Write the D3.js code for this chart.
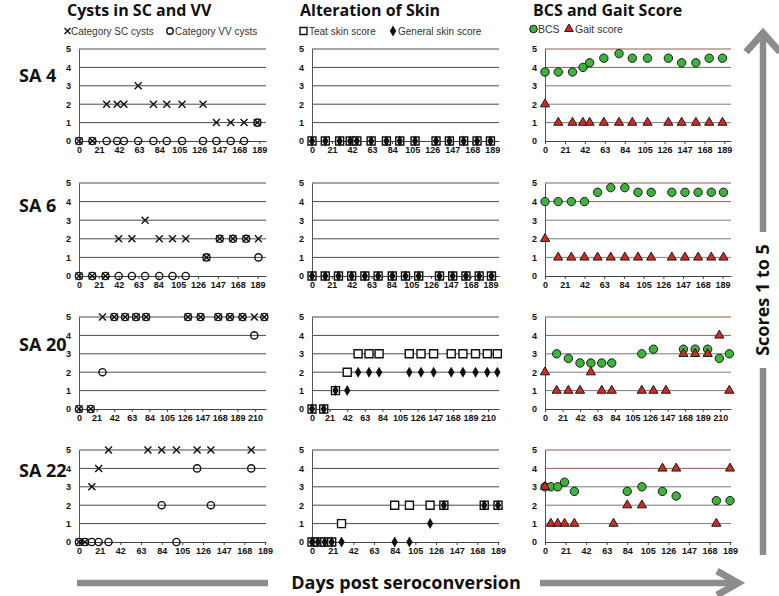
<!DOCTYPE html>
<html><head><meta charset="utf-8">
<script src="https://cdn.jsdelivr.net/npm/d3@7"></script>
<style>body{margin:0;background:#fff}svg{display:block}</style>
</head><body>
<svg id="c" width="779" height="596"></svg>
<script>
// ---------------- DATA ----------------
const rowLabels = ["SA 4", "SA 6", "SA 20", "SA 22"];
const panelTitles = ["Cysts  in SC and VV", "Alteration of Skin", "BCS and Gait Score"];
const legendLabels = [["Category SC cysts", "Category VV cysts"], ["Teat skin score", "General skin score"], ["BCS", "Gait score"]];
const axisLabel = "Days post seroconversion";
const scoreLabel = "Scores 1 to 5";

const days = [
  [0, 14, 29, 40, 47, 62, 78, 92, 108, 130, 144, 159, 173, 187],
  [0, 14, 28, 42, 56, 70, 85, 99, 113, 135, 149, 163, 177, 190],
  [0, 14, 28, 42, 55, 68, 80, 116, 130, 145, 166, 180, 195, 209, 221],
  [0, 6, 13, 20, 30, 70, 84, 99, 120, 134, 175, 189]
];
const dayMax = [196, 198, 223, 190];
const tickDays = [
  [0, 21, 42, 63, 84, 105, 126, 147, 168, 189],
  [0, 21, 42, 63, 84, 105, 126, 147, 168, 189],
  [0, 21, 42, 63, 84, 105, 126, 147, 168, 189, 210],
  [0, 21, 42, 63, 84, 105, 126, 147, 168, 189]
];
const scoreTicks = [0, 1, 2, 3, 4, 5];

const scCysts = [
  [0, 0, 2, 2, 2, 3, 2, 2, 2, 2, 1, 1, 1, 1],
  [0, 0, 0, 2, 2, 3, 2, 2, 2, 1, 2, 2, 2, 2],
  [0, 0, 5, 5, 5, 5, 5, null, 5, 5, 5, 5, 5, 5, 5],
  [0, 0, 3, 4, 5, 5, 5, 5, 5, 5, 5, null]
];
const vvCysts = [
  [0, 0, 0, 0, 0, 0, 0, 0, 0, 0, 0, 0, 0, 1],
  [0, 0, 0, 0, 0, 0, 0, 0, 0, 1, 2, 2, 2, 1],
  [0, 0, 2, 5, 5, 5, 5, null, 5, 5, 5, 5, 5, 4, 5],
  [0, 0, 0, 0, 0, null, 2, 0, 4, 2, 4, null]
];
const teatSkin = [
  [0, 0, 0, 0, 0, 0, 0, 0, 0, 0, 0, 0, 0, 0],
  [0, 0, 0, 0, 0, 0, 0, 0, 0, 0, 0, 0, 0, 0],
  [0, 0, 1, 2, 3, 3, 3, 3, 3, 3, 3, 3, 3, 3, 3],
  [0, 0, 0, 0, 1, null, 2, 2, 2, 2, 2, 2]
];
const generalSkin = [
  [0, 0, 0, 0, 0, 0, 0, 0, 0, 0, 0, 0, 0, 0],
  [0, 0, 0, 0, 0, 0, 0, 0, 0, 0, 0, 0, 0, 0],
  [0, 0, 1, 1, 2, 2, 2, 2, 2, 2, 2, 2, 2, 2, 2],
  [0, 0, 0, 0, 0, null, 0, 0, 1, 2, 2, 2]
];
const bcs = [
  [3.75, 3.75, 3.75, 4, 4.25, 4.5, 4.75, 4.5, 4.5, 4.5, 4.25, 4.25, 4.5, 4.5],
  [4, 4, 4, 4, 4.5, 4.75, 4.75, 4.5, 4.5, 4.5, 4.5, 4.5, 4.5, 4.5],
  [null, 3, 2.75, 2.5, 2.5, 2.5, 2.5, 3, 3.25, null, 3.25, 3.25, 3.25, 2.75, 3],
  [3, 3, 3, 3.25, 2.75, null, 2.75, 3, 2.75, 2.5, 2.25, 2.25]
];
const gait = [
  [2, 1, 1, 1, 1, 1, 1, 1, 1, 1, 1, 1, 1, 1],
  [2, 1, 1, 1, 1, 1, 1, 1, 1, 1, 1, 1, 1, 1],
  [2, 1, 1, 1, 2, 1, 1, 1, 1, 1, 3, 3, 3, 4, 1],
  [3, 1, 1, 1, 1, 1, 2, 2, 4, 4, 1, 4]
];

// ---------------- LAYOUT ----------------
const colX = [[79, 266], [312, 499], [545, 731]];
const rowY = [[141, 49], [276, 183], [409, 317], [542, 450]];
const rowLabelY = [82, 212, 351, 477];
const GREEN = "#3cb43c", RED = "#d22a1e", ARROW = "#8c8c8c";
const svg = d3.select("#c");
const SANS = "'Liberation Sans', Arial, sans-serif";
const BOLD = "'Open Sans', sans-serif";

function crossPath(s) { return `M${-s},${-s}L${s},${s}M${-s},${s}L${s},${-s}`; }
const markers = {
  cross: (g, s) => g.append("path").attr("d", crossPath(s)).attr("stroke", "#111").attr("stroke-width", 1.4).attr("fill", "none"),
  ring: (g, s) => g.append("circle").attr("r", s).attr("stroke", "#111").attr("stroke-width", 1.4).attr("fill", "none"),
  square: (g, s) => g.append("path").attr("d", d3.symbol(d3.symbolSquare, s * s)()).attr("stroke", "#111").attr("stroke-width", 1.4).attr("fill", "#fff"),
  diamond: (g, s) => g.append("path").attr("d", d3.symbol(d3.symbolDiamond, s * s * 0.55)()).attr("fill", "#111"),
  dot: (g, s) => g.append("circle").attr("r", s).attr("fill", GREEN).attr("stroke", "#1a1a1a").attr("stroke-width", 1),
  tri: (g, s) => g.append("path").attr("d", d3.symbol(d3.symbolTriangle, s * s * 0.45)()).attr("fill", RED).attr("stroke", "#1a1a1a").attr("stroke-width", 1)
};
const panelSeries = [
  [[scCysts, "cross", 3.5], [vvCysts, "ring", 3.6]],
  [[teatSkin, "square", 8], [generalSkin, "diamond", 8]],
  [[bcs, "dot", 4.2], [gait, "tri", 9]]
];
const legendPos = [
  [[67.5, 31, 71], [170, 31, 175]],
  [[303.5, 31, 309], [393, 31, 398]],
  [[533.5, 29, 538], [569, 29, 575]]
];
const legendSize = [[3, 3.2], [7, 8], [3.8, 8.5]];

// titles and legends
panelTitles.forEach((t, c) => {
  svg.append("text").attr("x", [67, 300, 533][c]).attr("y", 15.5).text(t)
    .attr("font-family", BOLD).attr("font-weight", 700).attr("font-size", 16).attr("fill", "#111");
  panelSeries[c].forEach((s, k) => {
    const [mx, my, tx] = legendPos[c][k];
    const g = svg.append("g").attr("transform", `translate(${mx},${my})`);
    markers[s[1]](g, legendSize[c][k]);
    svg.append("text").attr("x", tx).attr("y", my + 3.5).text(legendLabels[c][k])
      .attr("font-family", SANS).attr("font-size", c === 2 ? 10.5 : 10).attr("fill", "#333");
  });
});

// row labels
rowLabels.forEach((t, r) => {
  svg.append("text").attr("x", 19).attr("y", rowLabelY[r]).text(t)
    .attr("font-family", BOLD).attr("font-weight", 700).attr("font-size", 18).attr("fill", "#111");
});

// panels
for (let r = 0; r < 4; r++) {
  for (let c = 0; c < 3; c++) {
    const x = d3.scaleLinear().domain([0, dayMax[r]]).range(colX[c]);
    const y = d3.scaleLinear().domain([0, 5]).range(rowY[r]);
    const g = svg.append("g");
    g.selectAll("line.grid").data(scoreTicks.slice(1)).join("line")
      .attr("x1", colX[c][0]).attr("x2", colX[c][1])
      .attr("y1", d => y(d)).attr("y2", d => y(d))
      .attr("stroke", d => c === 2 ? (d >= 4 ? "#8e5e52" : "#7a7a7a") : "#4a4a4a")
      .attr("stroke-width", 1);
    const ya = g.append("g").attr("transform", `translate(${colX[c][0]},0)`)
      .call(d3.axisLeft(y).tickValues(scoreTicks).tickSize(0).tickPadding(8).tickFormat(d3.format("d")));
    ya.select(".domain").attr("stroke", "#555");
    ya.selectAll("text").attr("font-family", SANS).attr("font-weight", 700).attr("font-size", 9).attr("fill", "#111");
    const xa = g.append("g").attr("transform", `translate(0,${rowY[r][0]})`)
      .call(d3.axisBottom(x).tickValues(tickDays[r]).tickSize(3).tickSizeOuter(0).tickPadding(3));
    xa.select(".domain").attr("stroke", "#444");
    xa.selectAll(".tick line").attr("stroke", "#444");
    xa.selectAll("text").attr("font-family", SANS).attr("font-weight", 700).attr("font-size", 9).attr("fill", "#111");
    panelSeries[c].forEach(([arr, type, size]) => {
      const pts = days[r].map((d, i) => ({ d, v: arr[r][i] })).filter(p => p.v !== null);
      pts.forEach(p => {
        const mg = g.append("g").attr("transform", `translate(${x(p.d)},${y(p.v)})`);
        markers[type](mg, size);
      });
    });
  }
}

// arrows
const arrowG = svg.append("g").attr("stroke", ARROW).attr("fill", "none").attr("stroke-width", 6.5);
arrowG.append("line").attr("x1", 77).attr("x2", 268).attr("y1", 583).attr("y2", 583);
arrowG.append("line").attr("x1", 540).attr("x2", 733).attr("y1", 583).attr("y2", 583);
arrowG.append("path").attr("d", "M717,571L738,583L717,595").attr("stroke-width", 7);
arrowG.append("line").attr("x1", 763).attr("x2", 763).attr("y1", 555).attr("y2", 36);
arrowG.append("path").attr("d", "M746,52L763,33L780,52").attr("stroke-width", 7);

svg.append("text").attr("x", 406).attr("y", 589).attr("text-anchor", "middle").text(axisLabel)
  .attr("font-family", BOLD).attr("font-weight", 700).attr("font-size", 18).attr("fill", "#111");

svg.append("rect").attr("x", 752).attr("y", 232).attr("width", 22).attr("height", 136).attr("fill", "#fff");
svg.append("text").attr("transform", "translate(769,300) rotate(-90)").attr("text-anchor", "middle").text(scoreLabel)
  .attr("font-family", BOLD).attr("font-weight", 700).attr("font-size", 18).attr("fill", "#111");
</script>
</body></html>
